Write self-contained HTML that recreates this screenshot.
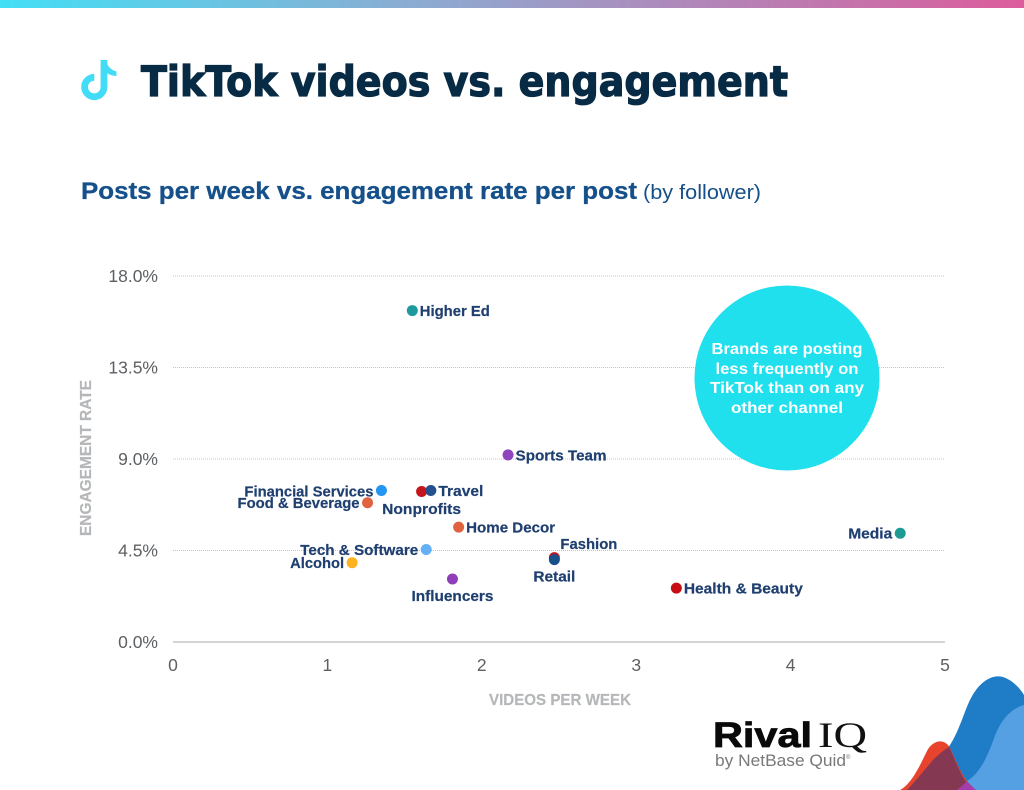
<!DOCTYPE html>
<html lang="en">
<head>
<meta charset="utf-8">
<title>TikTok videos vs. engagement</title>
<style>
html,body{margin:0;padding:0;background:#fff;}
body{width:1024px;height:790px;overflow:hidden;}
svg{display:block;font-family:"Liberation Sans",sans-serif;}
</style>
</head>
<body>
<svg id="chart" width="1024" height="790" viewBox="0 0 1024 790">
  <defs>
    <linearGradient id="topBar" x1="0" x2="1" y1="0" y2="0">
      <stop offset="0" stop-color="#43dff5"/>
      <stop offset="0.4" stop-color="#8bacd2"/>
      <stop offset="1" stop-color="#dc5c9c"/>
    </linearGradient>
  </defs>
  <rect x="0" y="0" width="1024" height="8" fill="url(#topBar)"/>
  <g>
    <path d="M104 60 V87 A9.700 9.700 0 1 1 94.300 77.300" fill="none" stroke="#43dcf6" stroke-width="6.800"/>
    <path d="M106 60 C107 66 111 70 116.500 71.500 L116.500 76 C112 76 107.500 74 104 71 Z" fill="#43dcf6"/>
  </g>
  <text x="141" y="96" font-family="'DejaVu Sans',sans-serif" font-size="42" font-weight="700" fill="#082b45" stroke="#082b45" stroke-width="1.300" textLength="647" lengthAdjust="spacingAndGlyphs">TikTok videos vs. engagement</text>
  <text x="81" y="199" font-family="'Liberation Sans',sans-serif" font-size="24.500" font-weight="700" fill="#15508a" stroke="#15508a" stroke-width="0.300" textLength="556" lengthAdjust="spacingAndGlyphs">Posts per week vs. engagement rate per post</text>
  <text x="643" y="199" font-family="'Liberation Sans',sans-serif" font-size="20" fill="#15508a" textLength="118" lengthAdjust="spacingAndGlyphs">(by follower)</text>
  <g id="grid"></g>
  <g id="xticks"></g>
  <g id="yticks"></g>
  <text transform="translate(91 458) rotate(-90)" text-anchor="middle" font-family="'Liberation Sans',sans-serif" font-size="15.500" font-weight="700" fill="#b5b7b9" stroke="#b5b7b9" stroke-width="0.200" textLength="156" lengthAdjust="spacingAndGlyphs">ENGAGEMENT RATE</text>
  <text x="560" y="705" text-anchor="middle" font-family="'Liberation Sans',sans-serif" font-size="15.500" font-weight="700" fill="#b5b7b9" stroke="#b5b7b9" stroke-width="0.200" textLength="142" lengthAdjust="spacingAndGlyphs">VIDEOS PER WEEK</text>
  <g>
    <circle cx="787" cy="378" r="92.500" fill="#20e0ee"/>
    <g font-family="'Liberation Sans',sans-serif" font-size="15.500" font-weight="700" fill="#fff" text-anchor="middle">
      <text x="787" y="354" textLength="151" lengthAdjust="spacingAndGlyphs">Brands are posting</text>
      <text x="787" y="374" textLength="143" lengthAdjust="spacingAndGlyphs">less frequently on</text>
      <text x="787" y="393" textLength="154" lengthAdjust="spacingAndGlyphs">TikTok than on any</text>
      <text x="787" y="413" textLength="112" lengthAdjust="spacingAndGlyphs">other channel</text>
    </g>
  </g>
  <g id="marks"></g>
  <g>
    <text x="713" y="747" font-family="'Liberation Sans',sans-serif" font-size="35" font-weight="700" fill="#0a0a0a" stroke="#0a0a0a" stroke-width="0.800" textLength="99" lengthAdjust="spacingAndGlyphs">Rival</text>
    <text x="818" y="747" font-family="'Liberation Serif',serif" font-size="36" fill="#111" textLength="49" lengthAdjust="spacingAndGlyphs">IQ</text>
    <text x="715" y="766" font-family="'Liberation Sans',sans-serif" font-size="16.500" fill="#77797b" textLength="131" lengthAdjust="spacingAndGlyphs">by NetBase Quid</text>
    <text x="846" y="759" font-family="'Liberation Sans',sans-serif" font-size="6" fill="#77797b">®</text>
  </g>
  <g>
    <path d="M948 790 V748 C962 728 965 704 976 690 C985 678 995 675 1003 677 C1012 680 1019 687 1024 695 V790 Z" fill="#1f7cc7"/>
    <path d="M900 790 C912 784 921 763 927 751 C932 741 944 737 950 748 C956 760 962 779 975 790 Z" fill="#e8432c"/>
    <path d="M949 747 C955 759 960 774 967 783 L957 790 H907 C915 782 926 768 933 760 C939 754 944 750 949 747 Z" fill="#853852"/>
    <path d="M967 781 C982 772 989 752 996 733 C1003 717 1013 708 1024 705 V790 H975 Z" fill="#559fe3"/>
    <path d="M957 790 L967 781.500 L976 790 Z" fill="#a63da8"/>
  </g>
</svg>
<script>
var categories = ["Higher Ed","Sports Team","Financial Services","Nonprofits","Travel","Food & Beverage","Home Decor","Tech & Software","Alcohol","Influencers","Fashion","Retail","Health & Beauty","Media"];
var videosPerWeek = [1.55,2.17,1.35,1.61,1.67,1.26,1.85,1.64,1.16,1.81,2.47,2.47,3.26,4.71];
var engagementRate = [16.3,9.2,7.45,7.4,7.45,6.85,5.65,4.55,3.9,3.1,4.15,4.05,2.65,5.35];
var xTickLabels = [0,1,2,3,4,5];
var yTickLabels = [0,4.5,9,13.5,18];

var dotColors = {"Higher Ed":"#1d9a9e","Sports Team":"#8e44bd","Financial Services":"#2196f3","Nonprofits":"#c4161c","Travel":"#25508f","Food & Beverage":"#e0623e","Home Decor":"#e0623e","Tech & Software":"#64b0f4","Alcohol":"#fdb31f","Influencers":"#8e3eb8","Fashion":"#c4161c","Retail":"#17508a","Health & Beauty":"#c70d14","Media":"#1d9a92"};
var labelPlacement = {"Higher Ed":["right",7.500,5.500],"Sports Team":["right",7.500,5.500],"Financial Services":["left",-8,6],"Nonprofits":["middle",0,22.500],"Travel":["right",7.500,5.500],"Food & Beverage":["left",-8,5.500],"Home Decor":["right",7.500,5.500],"Tech & Software":["left",-8,5.500],"Alcohol":["left",-8,5.500],"Influencers":["middle",0,22],"Fashion":["right",6,-8.500],"Retail":["middle",0,22],"Health & Beauty":["right",7.500,5.500],"Media":["left",-8,5.500]};
var labelWidths = {"Higher Ed":70,"Sports Team":91,"Financial Services":129,"Nonprofits":79,"Travel":45,"Food & Beverage":122,"Home Decor":89,"Tech & Software":118,"Alcohol":54,"Influencers":82,"Fashion":57,"Retail":42,"Health & Beauty":119,"Media":44};

var NS = "http://www.w3.org/2000/svg";
var xMin = 0, xMax = 5, yMin = 0, yMax = 18;
var plotLeft = 173, plotRight = 945, plotTop = 276, plotBottom = 642;
function xScale(v){ return plotLeft + (v - xMin) / (xMax - xMin) * (plotRight - plotLeft); }
function yScale(v){ return plotBottom - (v - yMin) / (yMax - yMin) * (plotBottom - plotTop); }
function node(tag, parent, props, txt){
  var el = document.createElementNS(NS, tag);
  for (var k in props) el.setAttribute(k, props[k]);
  if (txt !== undefined) el.textContent = txt;
  document.getElementById(parent).appendChild(el);
  return el;
}
var FONT = "'Liberation Sans',sans-serif";

yTickLabels.forEach(function(t){
  var y = yScale(t);
  var line = node("line", "grid", {x1:plotLeft, x2:plotRight, y1:y, y2:y, stroke: t === 0 ? "#a9abad" : "#c4c4c4", "stroke-width":1, "stroke-dasharray": t === 0 ? "none" : "1 1"});
  
  
  var lab = node("text", "yticks", {x:158, y:y+6, "text-anchor":"end", "font-family":FONT, "font-size":17.5, fill:"#5d6063"}, t.toFixed(1) + "%");
  
  
});
xTickLabels.forEach(function(t){
  var lab = node("text", "xticks", {x:xScale(t), y:671, "text-anchor":"middle", "font-family":FONT, "font-size":17.5, fill:"#5d6063"}, String(t));
  
  
});
var anchorMap = {right:"start", left:"end", middle:"middle"};
categories.forEach(function(c, i){
  var cx = xScale(videosPerWeek[i]), cy = yScale(engagementRate[i]);
  var dot = node("circle", "marks", {cx:cx, cy:cy, r:5.5, fill:dotColors[c]});
  
  
  var p = labelPlacement[c];
  var lab = node("text", "marks", {x:cx+p[1], y:cy+p[2], "text-anchor":anchorMap[p[0]], "font-family":FONT, "font-size":14.5, "font-weight":700, fill:"#1f3f70", stroke:"#1f3f70", "stroke-width":0.2, textLength:labelWidths[c], lengthAdjust:"spacingAndGlyphs"}, c);
  
  
});
</script>
</body>
</html>
